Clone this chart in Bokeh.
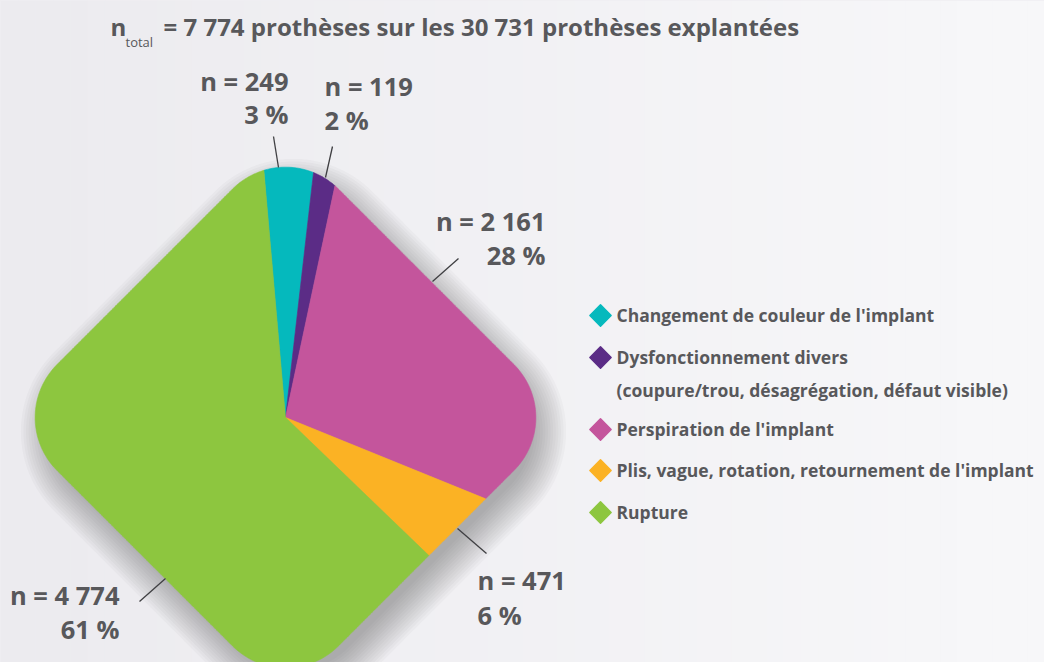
import numpy as np
from bokeh.plotting import figure
from bokeh.models import Range1d
from bokeh.core.properties import value
from bokeh.embed import file_html
from bokeh.resources import INLINE

# ---------------- data ----------------
categories = [
    "Changement de couleur de l'implant",
    "Dysfonctionnement divers",
    "Perspiration de l'implant",
    "Plis, vague, rotation, retournement de l'implant",
    "Rupture",
]
legend_second_line = ["", "(coupure/trou, désagrégation, défaut visible)", "", "", ""]
counts = [249, 119, 2161, 471, 4774]
percent_labels = ["3 %", "2 %", "28 %", "6 %", "61 %"]
count_labels = ["n = 249", "n = 119", "n = 2 161", "n = 471", "n = 4 774"]
colors = ["#05B9BD", "#5B2C86", "#C4559C", "#FBB224", "#8DC63F"]
total_explanted = "30 731"
total_label = "7 774"

# ---------------- layout / style ----------------
FONT = "Open Sans"
TEXT_COLOR = "#58585B"
CX, CY = 285.0, 417.0        # centre of the rounded diamond (screen px)
S, RC = 199.0, 75.0          # half side and corner radius of the rounded square
START = -5.0                 # first wedge start, degrees clockwise from top

W, H = 1044, 662


def radius(a_deg, s, rc):
    """distance from centre to the rounded square (rotated 45deg) along angle a (cw from top)"""
    phi = np.radians(a_deg + 45.0)
    dx, dy = abs(np.cos(phi)), abs(np.sin(phi))
    t = s / max(dx, dy)
    px, py = t * dx, t * dy
    c = s - rc
    if min(px, py) <= c:
        return t
    dc = c * (dx + dy)
    return dc + np.sqrt(max(dc * dc - 2 * c * c + rc * rc, 0.0))


def to_xy(a_deg, r, cx=CX, cy=CY):
    a = np.radians(a_deg)
    return cx + r * np.sin(a), cy - r * np.cos(a)


def shape(s, rc, cx, cy, n=720):
    xs, ys = [], []
    for a in np.linspace(0, 360, n, endpoint=False):
        x, y = to_xy(a, radius(a, s, rc), cx, cy)
        xs.append(x)
        ys.append(y)
    return xs, ys


p = figure(width=W, height=H, x_range=Range1d(0, W), y_range=Range1d(H, 0),
           x_axis_type=None, y_axis_type=None, toolbar_location=None,
           output_backend="svg", min_border=0)
p.grid.visible = False
p.outline_line_color = None
p.background_fill_color = "#F0EFF3"
p.border_fill_color = "#F0EFF3"

# background gradient (decoration)
nstrip = 60
edges = np.linspace(0, W, nstrip + 1)
c0 = np.array([0xEC, 0xEB, 0xEF])
c1 = np.array([0xF8, 0xF8, 0xFA])
strip_colors = []
for i in range(nstrip):
    t = (i + 0.5) / nstrip
    c = (c0 + (c1 - c0) * t).astype(int)
    strip_colors.append("#%02X%02X%02X" % tuple(c))
p.quad(left=edges[:-1], right=edges[1:] + 0.5, top=0, bottom=H,
       fill_color=strip_colors, line_color=None)

# soft shadow (decoration), offset down-right
sh_xs, sh_ys = [], []
for k in range(1, 15):
    e = 2.6 * k
    xs, ys = shape(S + e - 10, RC + e, CX + 8, CY + 14)
    sh_xs.append(xs)
    sh_ys.append(ys)
p.patches(sh_xs, sh_ys, fill_color="#3A3940", fill_alpha=0.032, line_color=None)

# wedges from data
total = float(sum(counts))
cum = np.concatenate([[0.0], np.cumsum(counts)]) / total
w_xs, w_ys = [], []
for i in range(len(counts)):
    a0 = START + 360.0 * cum[i]
    a1 = START + 360.0 * cum[i + 1]
    n = max(3, int((a1 - a0) / 0.4) + 2)
    xs, ys = [CX], [CY]
    for a in np.linspace(a0, a1, n):
        x, y = to_xy(a, radius(a, S, RC))
        xs.append(x)
        ys.append(y)
    w_xs.append(xs)
    w_ys.append(ys)
p.patches(w_xs, w_ys, fill_color=colors, line_color=colors, line_width=0.6)

# leader lines (annotation layout)
line_x0 = [273, 332, 458, 486, 139]
line_y0 = [136, 146, 258, 553, 601]
line_x1 = [278, 325, 432, 457, 165]
line_y1 = [167, 177, 281, 528, 578]
p.segment(x0=line_x0, y0=line_y0, x1=line_x1, y1=line_y1, line_color="#3F3F42", line_width=1.3)

# value labels (y = visual baseline minus renderer offset)
LAB_OFF = 12
lab_x = [288, 324, 545, 477, 119]
lab_align = ["right", "left", "right", "left", "right"]
lab_y1 = [92 - LAB_OFF, 97 - LAB_OFF, 232 - LAB_OFF, 591 - LAB_OFF, 606 - LAB_OFF]
lab_y2 = [125 - LAB_OFF, 131 - LAB_OFF, 266 - LAB_OFF, 626 - LAB_OFF, 640 - LAB_OFF]
p.text(x=lab_x, y=lab_y1, text=count_labels, text_align=lab_align, text_baseline="alphabetic",
       text_font=value(FONT), text_font_style="bold", text_font_size="25.5px", text_color=TEXT_COLOR)
p.text(x=lab_x, y=lab_y2, text=percent_labels, text_align=lab_align, text_baseline="alphabetic",
       text_font=value(FONT), text_font_style="bold", text_font_size="25.5px", text_color=TEXT_COLOR)

# title
TIT_Y = 36 - 10
p.text(x=[110], y=[TIT_Y], text=["n"], text_baseline="alphabetic", text_font=value(FONT),
       text_font_style="bold", text_font_size="24px", text_color=TEXT_COLOR)
p.text(x=[125], y=[47 - 6], text=["total"], text_baseline="alphabetic", text_font=value(FONT),
       text_font_size="13px", text_color=TEXT_COLOR)
p.text(x=[163], y=[TIT_Y],
       text=["= %s prothèses sur les %s prothèses explantées" % (total_label, total_explanted)],
       text_baseline="alphabetic", text_font=value(FONT), text_font_style="bold",
       text_font_size="24px", text_color=TEXT_COLOR)

# legend
LEG_OFF = 9
leg_y = [315, 357, 429, 470, 512]
p.scatter(x=[600] * 5, y=leg_y, marker="square", size=15, angle=np.pi / 4,
          fill_color=colors, line_color=colors, line_join="round", line_width=1.5)
p.text(x=[616] * 5, y=[y + 8 - LEG_OFF for y in leg_y], text=categories, text_baseline="alphabetic",
       text_font=value(FONT), text_font_style="bold", text_font_size="17.5px", text_color=TEXT_COLOR)
p.text(x=[616], y=[leg_y[1] + 41 - LEG_OFF], text=[legend_second_line[1]], text_baseline="alphabetic",
       text_font=value(FONT), text_font_style="bold", text_font_size="17.5px", text_color=TEXT_COLOR)

html = file_html(p, INLINE, title="Prothèses explantées")
html = html.replace("<head>", "<head>\n<style>html,body{background:#EEEDF1;}</style>", 1)
with open("out.html", "w", encoding="utf-8") as f:
    f.write(html)
